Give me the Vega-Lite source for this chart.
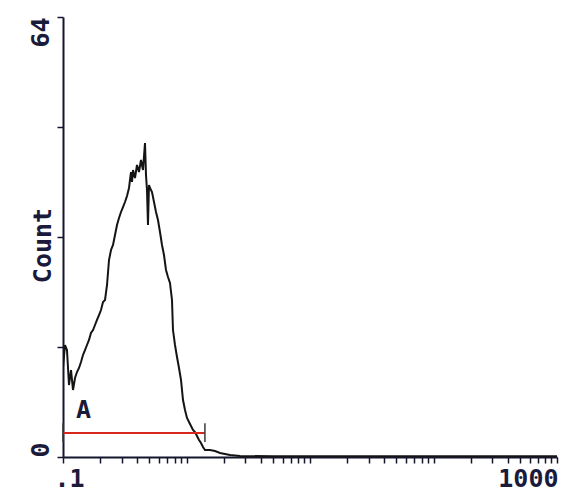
{
  "$schema": "https://vega.github.io/schema/vega-lite/v6.json",
  "autosize": {"type": "none"},
  "padding": {"left": 63, "top": 17, "right": 11, "bottom": 38},
  "width": 494,
  "height": 440,
  "background": "white",
  "config": {
    "view": {"stroke": null},
    "axis": {
      "grid": false,
      "domainColor": "#15152e",
      "domainWidth": 2,
      "tickColor": "#15152e",
      "tickWidth": 1.5,
      "tickSize": 6,
      "labelFont": "DejaVu Sans Mono",
      "labelFontWeight": "bold",
      "labelFontSize": 25,
      "labelColor": "#1a1a3a",
      "labelOverlap": false,
      "labelBound": false,
      "titleFont": "DejaVu Sans Mono",
      "titleFontWeight": "bold",
      "titleFontSize": 25,
      "titleColor": "#1a1a3a"
    }
  },
  "datasets": {
    "histogram": [
      {"fl": 0.1000, "count": 13.0},
      {"fl": 0.1038, "count": 16.29},
      {"fl": 0.1077, "count": 15.56},
      {"fl": 0.1118, "count": 10.47},
      {"fl": 0.1161, "count": 12.65},
      {"fl": 0.1205, "count": 9.75},
      {"fl": 0.1251, "count": 11.49},
      {"fl": 0.1298, "count": 12.36},
      {"fl": 0.1348, "count": 12.95},
      {"fl": 0.1399, "count": 13.82},
      {"fl": 0.1452, "count": 14.84},
      {"fl": 0.1507, "count": 15.56},
      {"fl": 0.1564, "count": 16.29},
      {"fl": 0.1624, "count": 17.02},
      {"fl": 0.1685, "count": 18.04},
      {"fl": 0.1750, "count": 18.47},
      {"fl": 0.1816, "count": 19.20},
      {"fl": 0.1885, "count": 19.93},
      {"fl": 0.1957, "count": 20.65},
      {"fl": 0.2031, "count": 21.38},
      {"fl": 0.2109, "count": 22.55},
      {"fl": 0.2189, "count": 22.84},
      {"fl": 0.2272, "count": 25.02},
      {"fl": 0.2358, "count": 28.65},
      {"fl": 0.2448, "count": 30.11},
      {"fl": 0.2541, "count": 30.84},
      {"fl": 0.2637, "count": 32.29},
      {"fl": 0.2737, "count": 33.75},
      {"fl": 0.2841, "count": 34.76},
      {"fl": 0.2949, "count": 35.64},
      {"fl": 0.3061, "count": 36.36},
      {"fl": 0.3177, "count": 37.09},
      {"fl": 0.3298, "count": 37.96},
      {"fl": 0.3423, "count": 39.13},
      {"fl": 0.3553, "count": 41.45},
      {"fl": 0.3620, "count": 40.00},
      {"fl": 0.3688, "count": 41.75},
      {"fl": 0.3828, "count": 40.58},
      {"fl": 0.3973, "count": 42.47},
      {"fl": 0.4124, "count": 41.45},
      {"fl": 0.4281, "count": 43.20},
      {"fl": 0.4443, "count": 41.75},
      {"fl": 0.4612, "count": 45.67},
      {"fl": 0.4699, "count": 41.02},
      {"fl": 0.4787, "count": 38.84},
      {"fl": 0.4877, "count": 33.75},
      {"fl": 0.4969, "count": 39.56},
      {"fl": 0.5063, "count": 39.13},
      {"fl": 0.5255, "count": 38.55},
      {"fl": 0.5455, "count": 37.09},
      {"fl": 0.5662, "count": 35.64},
      {"fl": 0.5877, "count": 34.47},
      {"fl": 0.6100, "count": 32.73},
      {"fl": 0.6332, "count": 30.84},
      {"fl": 0.6572, "count": 29.38},
      {"fl": 0.6823, "count": 27.20},
      {"fl": 0.7081, "count": 26.18},
      {"fl": 0.7350, "count": 25.31},
      {"fl": 0.7630, "count": 22.84},
      {"fl": 0.7773, "count": 18.47},
      {"fl": 0.8070, "count": 16.29},
      {"fl": 0.8377, "count": 14.55},
      {"fl": 0.8695, "count": 12.95},
      {"fl": 0.9025, "count": 11.20},
      {"fl": 0.9369, "count": 8.29},
      {"fl": 0.9725, "count": 6.84},
      {"fl": 1.0093, "count": 5.67},
      {"fl": 1.0476, "count": 5.09},
      {"fl": 1.0875, "count": 4.51},
      {"fl": 1.1289, "count": 3.93},
      {"fl": 1.1718, "count": 3.64},
      {"fl": 1.2162, "count": 3.05},
      {"fl": 1.2625, "count": 2.47},
      {"fl": 1.3104, "count": 2.04},
      {"fl": 1.3602, "count": 1.45},
      {"fl": 1.4120, "count": 1.02},
      {"fl": 1.5500, "count": 1.02},
      {"fl": 1.7015, "count": 0.87},
      {"fl": 1.8680, "count": 0.58},
      {"fl": 2.0500, "count": 0.44},
      {"fl": 2.2500, "count": 0.29},
      {"fl": 2.7120, "count": 0.15},
      {"fl": 5, "count": 0.1},
      {"fl": 20, "count": 0.1},
      {"fl": 100, "count": 0.1},
      {"fl": 400, "count": 0.1},
      {"fl": 1000, "count": 0.1}
    ],
    "gates": [
      {"gate": "A", "lo": 0.1, "hi": 1.41, "level": 3.5, "barTop": 4.9, "barBottom": 2.2}
    ]
  },
  "layer": [
    {
      "data": {"name": "histogram"},
      "mark": {"type": "line", "color": "#141414", "strokeWidth": 2, "clip": true},
      "encoding": {
        "x": {
          "field": "fl",
          "type": "quantitative",
          "scale": {"type": "log", "domain": [0.1, 1000], "nice": false},
          "axis": {
            "title": null,
            "values": [0.1, 0.2, 0.3, 0.4, 0.5, 0.6, 0.7, 0.8, 0.9, 1, 2, 3, 4, 5, 6, 7, 8, 9, 10, 20, 30, 40, 50, 60, 70, 80, 90, 100, 200, 300, 400, 500, 600, 700, 800, 900, 1000],
            "labelExpr": "datum.value == 0.1 ? '.1' : datum.value == 1000 ? '1000' : ''",
            "labelAlign": {"expr": "datum.value < 1 ? 'center' : 'right'"},
            "labelOffset": {"expr": "datum.value < 1 ? 6 : 1"},
            "labelPadding": 3
          }
        },
        "y": {
          "field": "count",
          "type": "quantitative",
          "scale": {"domain": [0, 64], "nice": false},
          "axis": {
            "title": "Count",
            "titleAngle": -90,
            "titleAlign": "center",
            "titleBaseline": "middle",
            "titleX": -21,
            "titleY": 228,
            "values": [0, 16, 32, 48, 64],
            "labelExpr": "datum.value == 0 ? '0' : datum.value == 64 ? '64' : ''",
            "labelAngle": -90,
            "labelAlign": {"expr": "datum.value == 0 ? 'left' : 'right'"},
            "labelBaseline": "middle",
            "labelPadding": 17
          }
        }
      }
    },
    {
      "data": {"name": "gates"},
      "mark": {"type": "rule", "color": "#d8281e", "strokeWidth": 2},
      "encoding": {
        "x": {"field": "lo", "type": "quantitative"},
        "x2": {"field": "hi"},
        "y": {"field": "level", "type": "quantitative"}
      }
    },
    {
      "data": {"name": "gates"},
      "mark": {"type": "rule", "color": "#3a3a3a", "strokeWidth": 1.5},
      "encoding": {
        "x": {"field": "hi", "type": "quantitative"},
        "y": {"field": "barTop", "type": "quantitative"},
        "y2": {"field": "barBottom"}
      }
    },
    {
      "data": {"name": "gates"},
      "mark": {"type": "rule", "color": "#3a3a3a", "strokeWidth": 1.5},
      "encoding": {
        "x": {"field": "lo", "type": "quantitative"},
        "y": {"field": "barTop", "type": "quantitative"},
        "y2": {"field": "barBottom"}
      }
    },
    {
      "data": {"name": "gates"},
      "mark": {"type": "text", "font": "DejaVu Sans Mono", "fontWeight": "bold", "fontSize": 25, "color": "#1a1a3a", "align": "left", "baseline": "bottom", "dx": 13, "dy": 0},
      "encoding": {
        "x": {"field": "lo", "type": "quantitative"},
        "y": {"field": "barTop", "type": "quantitative"},
        "text": {"field": "gate"}
      }
    }
  ]
}
